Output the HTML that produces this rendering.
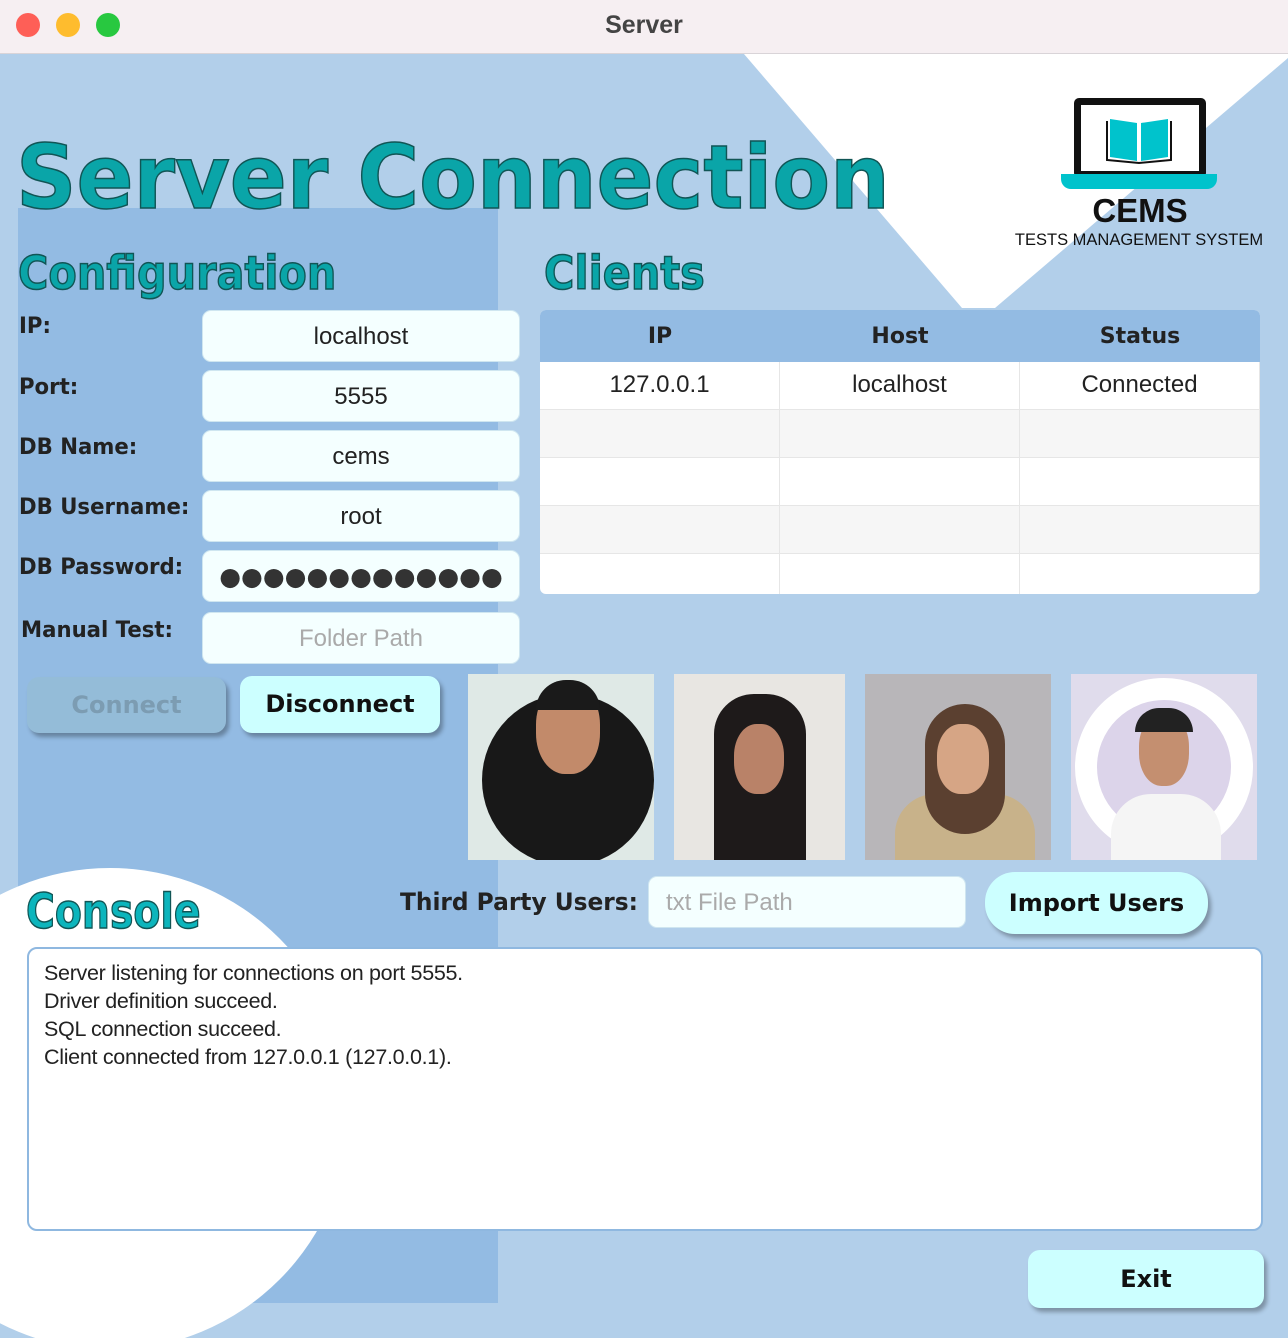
<!DOCTYPE html>
<html><head><meta charset="utf-8"><style>
*{margin:0;padding:0;box-sizing:border-box}
body{width:1288px;height:1338px;position:relative;overflow:hidden;background:#b2cfea;font-family:"Liberation Sans",sans-serif}
.a{position:absolute}
.tb{left:0;top:0;width:1288px;height:54px;background:#f6eff2;border-bottom:1px solid #d9d4d8;text-align:center;font-size:25px;color:#444;line-height:50px;font-weight:bold}
.dot{width:24px;height:24px;border-radius:50%;top:13px}
.h{font-family:"DejaVu Sans",sans-serif;font-weight:bold;color:#0aa5a8;-webkit-text-stroke:1.5px #155;transform-origin:0 0;white-space:nowrap}
.lbl{font-family:"DejaVu Sans",sans-serif;font-weight:bold;font-size:22px;color:#222;left:19px;transform:scaleX(.965);transform-origin:0 0;white-space:nowrap}
.in{left:202px;width:318px;height:52px;background:#f4ffff;border:1px solid #cfe6f0;border-radius:9px;text-align:center;font-size:24px;line-height:52px;color:#222}
.btn{border-radius:12px;font-family:"DejaVu Sans",sans-serif;font-weight:bold;font-size:24px;text-align:center;box-shadow:3px 4px 4px rgba(0,0,0,.3)}
.cell{position:absolute;width:240px;height:48px;border-right:1px solid #e6e6e6;border-bottom:1px solid #e6e6e6;text-align:center;font-size:24px;line-height:46px;color:#222}
.ph{top:674px;height:186px;overflow:hidden}
</style></head><body>
<div class="a tb">Server
<div class="a dot" style="left:16px;background:#fe5f57"></div>
<div class="a dot" style="left:56px;background:#febc2e"></div>
<div class="a dot" style="left:96px;background:#28c840"></div>
</div>
<svg class="a" style="left:0;top:54px" width="1288" height="1284">
<polygon points="744,0 1288,0 1288,4 995,254 962,254" fill="#fff"/>
<rect x="18" y="154" width="480" height="1095" fill="#93bbe3"/>
<ellipse cx="110" cy="1055" rx="240" ry="241" fill="#fff"/>
</svg>
<!-- logo -->
<div class="a" style="left:1074px;top:98px;width:132px;height:80px;border:7px solid #111;border-radius:5px;background:#fff"></div>
<div class="a" style="left:1061px;top:174px;width:156px;height:15px;background:#00c3cc;border-radius:0 0 10px 10px"></div>
<svg class="a" style="left:1104px;top:113px" width="70" height="52"><path d="M6 6 L33 10 L33 48 L6 44Z M64 6 L37 10 L37 48 L64 44Z" fill="#00c3cc"/><path d="M3 8 V47 L35 50 L67 47 V8" stroke="#111" stroke-width="2" fill="none"/></svg>
<div class="a" style="left:1060px;top:192px;width:160px;text-align:center;font-weight:bold;font-size:33px;color:#111">CEMS</div>
<div class="a" style="left:1008px;top:231px;width:262px;text-align:center;font-size:16.5px;color:#111">TESTS MANAGEMENT SYSTEM</div>

<div class="a h" style="left:16px;top:126px;font-size:88px;transform:scaleX(.955)">Server Connection</div>
<div class="a h" style="left:18px;top:246px;font-size:46px;transform:scaleX(.9)">Configuration</div>
<div class="a h" style="left:544px;top:246px;font-size:46px;transform:scaleX(.9)">Clients</div>
<div class="a h" style="left:26px;top:884px;font-size:48px;color:#0cb5bc;transform:scaleX(.82)">Console</div>

<div class="a lbl" style="top:314px">IP:</div>
<div class="a lbl" style="top:375px">Port:</div>
<div class="a lbl" style="top:435px">DB Name:</div>
<div class="a lbl" style="top:495px">DB Username:</div>
<div class="a lbl" style="top:555px">DB Password:</div>
<div class="a lbl" style="top:618px;left:21px">Manual Test:</div>
<div class="a in" style="top:310px">localhost</div>
<div class="a in" style="top:370px">5555</div>
<div class="a in" style="top:430px">cems</div>
<div class="a in" style="top:490px">root</div>
<div class="a in" style="top:550px;font-size:25px;color:#333;font-family:'DejaVu Sans'">●●●●●●●●●●●●●</div>
<div class="a in" style="top:612px;color:#aaa">Folder Path</div>

<div class="a btn" style="left:27px;top:677px;width:199px;height:56px;line-height:56px;background:#94bcd8;color:#7c9cb2">Connect</div>
<div class="a btn" style="left:240px;top:676px;width:200px;height:57px;line-height:57px;background:#ccffff;color:#111">Disconnect</div>

<div class="a" style="left:540px;top:310px;width:720px;height:284px;background:#fff;border-radius:6px;overflow:hidden">
<div class="a" style="left:0;top:0;width:720px;height:52px;background:#93bbe3"></div>
<div class="a" style="left:0;top:14px;width:240px;text-align:center;font-family:'DejaVu Sans';font-weight:bold;font-size:22px;color:#222">IP</div>
<div class="a" style="left:240px;top:14px;width:240px;text-align:center;font-family:'DejaVu Sans';font-weight:bold;font-size:22px;color:#222">Host</div>
<div class="a" style="left:480px;top:14px;width:240px;text-align:center;font-family:'DejaVu Sans';font-weight:bold;font-size:22px;color:#222">Status</div>
<div class="cell" style="left:0;top:52px">127.0.0.1</div><div class="cell" style="left:240px;top:52px">localhost</div><div class="cell" style="left:480px;top:52px">Connected</div>
<div class="cell" style="left:0;top:100px;background:#f6f6f6"></div><div class="cell" style="left:240px;top:100px;background:#f6f6f6"></div><div class="cell" style="left:480px;top:100px;background:#f6f6f6"></div>
<div class="cell" style="left:0;top:148px"></div><div class="cell" style="left:240px;top:148px"></div><div class="cell" style="left:480px;top:148px"></div>
<div class="cell" style="left:0;top:196px;background:#f6f6f6"></div><div class="cell" style="left:240px;top:196px;background:#f6f6f6"></div><div class="cell" style="left:480px;top:196px;background:#f6f6f6"></div>
<div class="cell" style="left:0;top:244px"></div><div class="cell" style="left:240px;top:244px"></div><div class="cell" style="left:480px;top:244px"></div>
</div>

<div class="a ph" style="left:468px;width:186px;background:#dfe9e6"><div class="a" style="left:14px;top:20px;width:172px;height:172px;border-radius:50%;background:#181818"></div><div class="a" style="left:68px;top:10px;width:64px;height:90px;border-radius:45%;background:#c28a6a"></div><div class="a" style="left:68px;top:6px;width:64px;height:30px;border-radius:30px 30px 0 0;background:#1a1a1a"></div></div>
<div class="a ph" style="left:674px;width:171px;background:#e8e6e2"><div class="a" style="left:40px;top:20px;width:92px;height:166px;border-radius:40px 40px 0 0;background:#1e1a1a"></div><div class="a" style="left:60px;top:50px;width:50px;height:70px;border-radius:45%;background:#b98268"></div></div>
<div class="a ph" style="left:865px;width:186px;background:#b8b6b9"><div class="a" style="left:30px;top:120px;width:140px;height:80px;border-radius:40px 40px 0 0;background:#c8b28a"></div><div class="a" style="left:60px;top:30px;width:80px;height:130px;border-radius:40px;background:#5b4030"></div><div class="a" style="left:72px;top:50px;width:52px;height:70px;border-radius:45%;background:#d6a585"></div></div>
<div class="a ph" style="left:1071px;width:186px;background:#e0dcec"><div class="a" style="left:4px;top:4px;width:178px;height:178px;border-radius:50%;border:22px solid #fff;background:#dcd4ea"></div><div class="a" style="left:40px;top:120px;width:110px;height:66px;border-radius:40px 40px 0 0;background:#f5f5f5"></div><div class="a" style="left:68px;top:40px;width:50px;height:72px;border-radius:45%;background:#c48f70"></div><div class="a" style="left:64px;top:34px;width:58px;height:24px;border-radius:25px 25px 0 0;background:#222"></div></div>

<div class="a lbl" style="left:400px;top:888px;font-size:24px;transform:scaleX(.97)">Third Party Users:</div>
<div class="a in" style="left:648px;top:876px;width:318px;text-align:left;padding-left:17px;color:#aaa">txt File Path</div>
<div class="a btn" style="left:985px;top:872px;width:223px;height:62px;line-height:62px;background:#ccffff;color:#111;border-radius:30px">Import Users</div>

<div class="a" style="left:27px;top:947px;width:1236px;height:284px;background:#fff;border:2px solid #8fb8e0;border-radius:10px;padding:10px 15px;font-size:21.5px;line-height:28px;color:#222;letter-spacing:-0.3px">Server listening for connections on port 5555.<br>Driver definition succeed.<br>SQL connection succeed.<br>Client connected from 127.0.0.1 (127.0.0.1).</div>

<div class="a btn" style="left:1028px;top:1250px;width:236px;height:58px;line-height:58px;background:#ccffff;color:#111">Exit</div>
</body></html>
